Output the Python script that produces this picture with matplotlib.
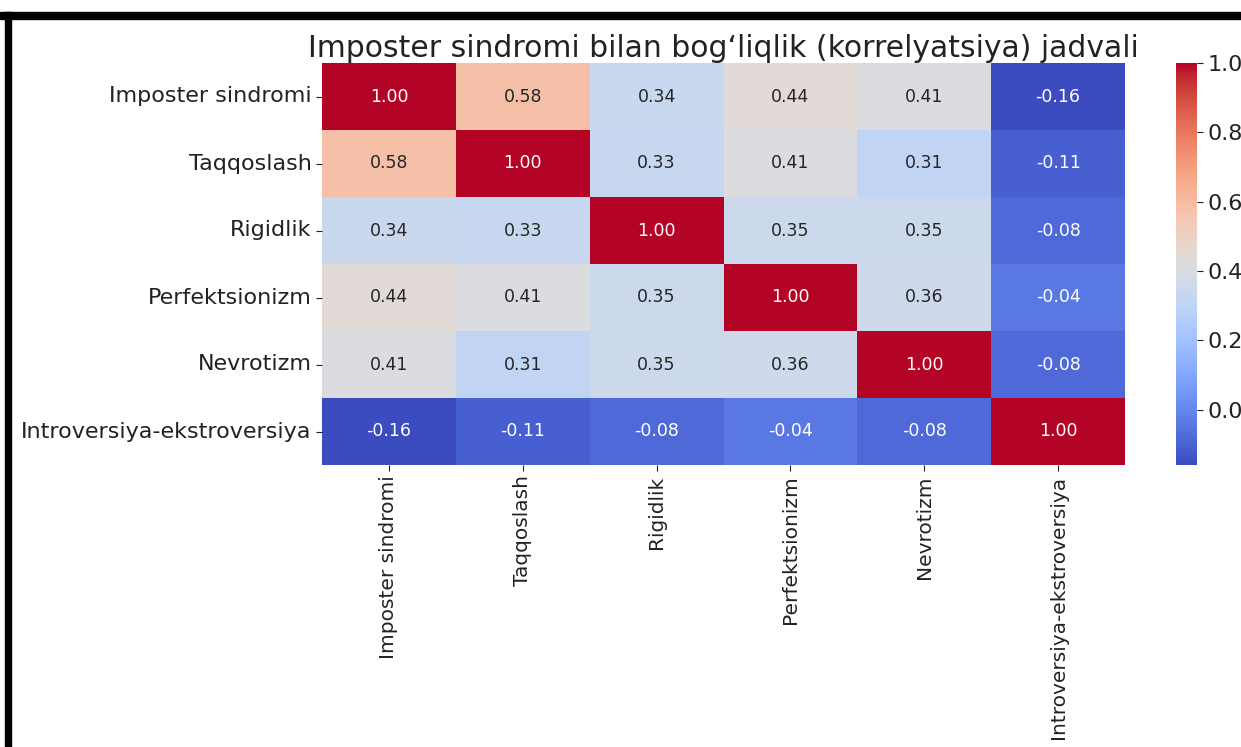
import numpy as np
import matplotlib
matplotlib.use("Agg")
import matplotlib.pyplot as plt
import seaborn as sns
from matplotlib.patches import Rectangle

labels = ["Imposter sindromi", "Taqqoslash", "Rigidlik", "Perfektsionizm",
          "Nevrotizm", "Introversiya-ekstroversiya"]
corr = np.array([
    [1.00, 0.58, 0.34, 0.44, 0.41, -0.16],
    [0.58, 1.00, 0.33, 0.41, 0.31, -0.11],
    [0.34, 0.33, 1.00, 0.35, 0.35, -0.08],
    [0.44, 0.41, 0.35, 1.00, 0.36, -0.04],
    [0.41, 0.31, 0.35, 0.36, 1.00, -0.08],
    [-0.16, -0.11, -0.08, -0.04, -0.08, 1.00],
])

W, H = 1241, 747
fig = plt.figure(figsize=(W / 100, H / 100), dpi=100)
ax = fig.add_axes([322 / W, 1 - 465 / H, (1125 - 322) / W, (465 - 63) / H])
cax = fig.add_axes([1176 / W, 1 - 465 / H, (1197 - 1176) / W, (465 - 63) / H])

sns.heatmap(corr, annot=True, fmt=".2f", cmap="coolwarm", ax=ax, cbar_ax=cax,
            xticklabels=labels, yticklabels=labels,
            annot_kws={"fontsize": 12.5})

ax.tick_params(axis="both", length=4, colors="#222222")
ax.set_xticklabels(labels, rotation=90, fontsize=14.5)
ax.set_yticklabels(labels, rotation=0, fontsize=16)
ax.set_title("Imposter sindromi bilan bog\u2018liqlik (korrelyatsiya) jadvali",
             fontsize=21.5, pad=4, color="#222222")
cax.tick_params(labelsize=16, length=4, colors="#222222")
cax.set_yticks([0.0, 0.2, 0.4, 0.6, 0.8, 1.0])

# screenshot border
fig.patches.append(Rectangle((0, 1 - 19 / H), 1, 7 / H, transform=fig.transFigure,
                             color="black", zorder=10))
fig.patches.append(Rectangle((5 / W, 0), 6 / W, 1 - 12 / H, transform=fig.transFigure,
                             color="black", zorder=10))

fig.savefig("out.png", dpi=100)
